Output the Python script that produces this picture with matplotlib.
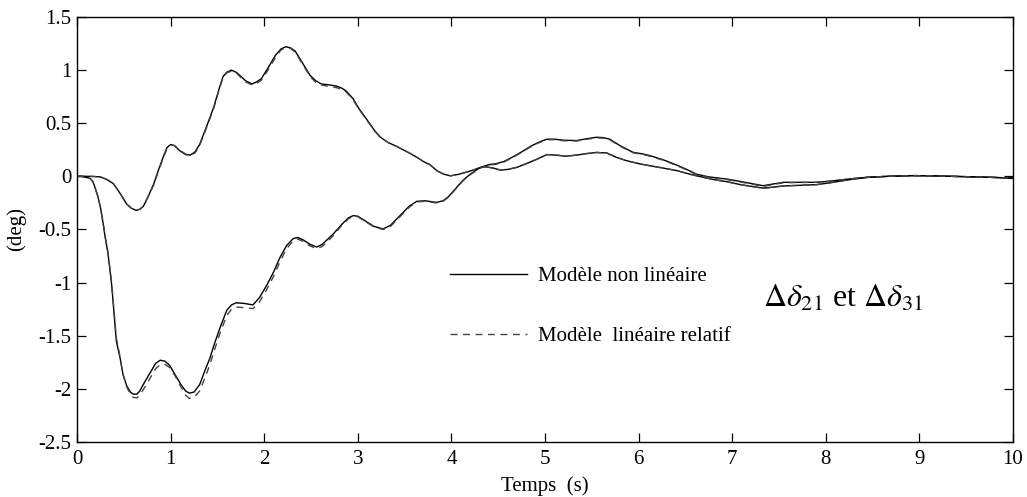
import matplotlib
matplotlib.use("Agg")
import matplotlib.pyplot as plt

# ---- data ----
t_a = [0.00, 0.15, 0.25, 0.32, 0.39, 0.46, 0.53, 0.58, 0.63, 0.67, 0.71, 0.76, 0.82, 0.87, 0.92, 0.96,
       1.00, 1.04, 1.10, 1.16, 1.21, 1.26, 1.31, 1.38, 1.46, 1.52, 1.56, 1.60, 1.65, 1.70, 1.74, 1.80,
       1.87, 1.92, 1.97, 2.04, 2.12, 2.18, 2.23, 2.28, 2.33, 2.40, 2.49, 2.55, 2.61, 2.70, 2.77, 2.83,
       2.88, 2.95, 3.01, 3.10, 3.18, 3.24, 3.32, 3.42, 3.55, 3.63, 3.70, 3.77, 3.85, 3.92, 3.99, 4.08,
       4.20, 4.30, 4.36, 4.44, 4.52, 4.60, 4.70, 4.80, 4.91, 5.02, 5.12, 5.22, 5.34, 5.45, 5.55, 5.66,
       5.76, 5.87, 6.00, 6.12, 6.25, 6.41, 6.55, 6.66, 6.80, 6.94, 7.10, 7.25, 7.33, 7.45, 7.55, 7.70,
       7.90, 8.05, 8.15, 8.30, 8.44, 8.65, 8.93, 9.15, 9.36, 9.60, 9.80, 10.00]
a_nonlin = [0.00, 0.00, -0.005, -0.03, -0.07, -0.16, -0.26, -0.30, -0.32, -0.31, -0.28, -0.19, -0.07, 0.06, 0.18, 0.27,
            0.30, 0.29, 0.24, 0.205, 0.20, 0.23, 0.30, 0.46, 0.65, 0.83, 0.94, 0.98, 1.00, 0.98, 0.95, 0.90,
            0.87, 0.89, 0.92, 1.02, 1.14, 1.20, 1.22, 1.21, 1.18, 1.08, 0.95, 0.90, 0.87, 0.86, 0.85, 0.83,
            0.80, 0.73, 0.64, 0.53, 0.43, 0.37, 0.32, 0.28, 0.22, 0.18, 0.14, 0.11, 0.05, 0.02, 0.005, 0.02,
            0.05, 0.08, 0.09, 0.08, 0.06, 0.065, 0.085, 0.12, 0.16, 0.205, 0.20, 0.19, 0.20, 0.215, 0.225, 0.22,
            0.18, 0.148, 0.12, 0.10, 0.08, 0.054, 0.02, -0.003, -0.03, -0.05, -0.08, -0.10, -0.11, -0.10, -0.09, -0.085,
            -0.078, -0.06, -0.045, -0.025, -0.01, 0.00, 0.007, 0.005, 0.00, -0.005, -0.01, -0.015]
a_lin = [0.00, 0.00, -0.005, -0.03, -0.07, -0.16, -0.26, -0.30, -0.32, -0.31, -0.28, -0.19, -0.08, 0.05, 0.17, 0.26,
         0.295, 0.29, 0.245, 0.21, 0.20, 0.22, 0.29, 0.45, 0.64, 0.82, 0.93, 0.975, 0.99, 0.975, 0.94, 0.89,
         0.86, 0.875, 0.905, 1.00, 1.12, 1.19, 1.21, 1.205, 1.17, 1.07, 0.94, 0.885, 0.86, 0.845, 0.835, 0.82,
         0.79, 0.72, 0.635, 0.525, 0.425, 0.37, 0.32, 0.28, 0.22, 0.18, 0.14, 0.11, 0.05, 0.02, 0.005, 0.02,
         0.05, 0.08, 0.09, 0.08, 0.06, 0.065, 0.085, 0.12, 0.16, 0.205, 0.20, 0.19, 0.20, 0.215, 0.225, 0.22,
         0.18, 0.148, 0.12, 0.10, 0.08, 0.054, 0.02, -0.003, -0.03, -0.05, -0.08, -0.10, -0.115, -0.10, -0.09, -0.085,
         -0.078, -0.06, -0.045, -0.025, -0.01, 0.00, 0.007, 0.005, 0.00, -0.005, -0.01, -0.015]

t_b = [0.00, 0.05, 0.10, 0.14, 0.17, 0.19, 0.22, 0.25, 0.28, 0.30, 0.33, 0.37, 0.42, 0.46, 0.49, 0.53,
       0.57, 0.60, 0.64, 0.67, 0.72, 0.78, 0.84, 0.89, 0.94, 0.99, 1.05, 1.11, 1.16, 1.20, 1.25, 1.31,
       1.37, 1.42, 1.47, 1.53, 1.60, 1.65, 1.70, 1.78, 1.88, 1.95, 2.03, 2.10, 2.17, 2.24, 2.31, 2.36,
       2.42, 2.49, 2.56, 2.62, 2.68, 2.74, 2.82, 2.90, 2.95, 3.00, 3.08, 3.17, 3.27, 3.35, 3.45, 3.55,
       3.63, 3.72, 3.84, 3.91, 3.97, 4.05, 4.12, 4.20, 4.31, 4.40, 4.48, 4.56, 4.65, 4.75, 4.84, 4.93,
       5.02, 5.10, 5.20, 5.34, 5.45, 5.55, 5.62, 5.69, 5.80, 5.94, 6.05, 6.12, 6.25, 6.34, 6.45, 6.55,
       6.62, 6.75, 6.94, 7.10, 7.25, 7.33, 7.45, 7.55, 7.70, 7.90, 8.05, 8.15, 8.30, 8.44, 8.65, 8.93,
       9.15, 9.36, 9.60, 9.80, 10.00]
b_nonlin = [0.00, 0.00, -0.01, -0.02, -0.05, -0.10, -0.18, -0.29, -0.45, -0.57, -0.72, -1.02, -1.55, -1.71, -1.86, -1.97,
            -2.03, -2.05, -2.05, -2.02, -1.94, -1.85, -1.76, -1.73, -1.74, -1.78, -1.87, -1.96, -2.02, -2.04, -2.03, -1.96,
            -1.82, -1.71, -1.57, -1.42, -1.26, -1.21, -1.19, -1.195, -1.21, -1.14, -1.02, -0.90, -0.76, -0.65, -0.585, -0.575,
            -0.60, -0.64, -0.665, -0.64, -0.59, -0.54, -0.46, -0.39, -0.37, -0.375, -0.42, -0.47, -0.495, -0.46, -0.37, -0.28,
            -0.235, -0.23, -0.245, -0.23, -0.19, -0.11, -0.04, 0.02, 0.085, 0.11, 0.12, 0.14, 0.18, 0.23, 0.28, 0.32,
            0.35, 0.35, 0.34, 0.337, 0.355, 0.368, 0.365, 0.35, 0.29, 0.226, 0.21, 0.195, 0.16, 0.13, 0.09, 0.05,
            0.02, -0.005, -0.025, -0.05, -0.075, -0.088, -0.07, -0.056, -0.056, -0.056, -0.045, -0.034, -0.02, -0.009, 0.00, 0.007,
            0.005, 0.00, -0.005, -0.01, -0.02]
b_lin = [0.00, 0.00, -0.01, -0.02, -0.05, -0.10, -0.18, -0.29, -0.44, -0.56, -0.71, -1.00, -1.52, -1.70, -1.86, -1.98,
         -2.05, -2.08, -2.085, -2.06, -1.99, -1.90, -1.81, -1.77, -1.77, -1.80, -1.88, -1.98, -2.06, -2.09, -2.08, -2.02,
         -1.89, -1.77, -1.63, -1.47, -1.31, -1.25, -1.23, -1.235, -1.245, -1.18, -1.06, -0.94, -0.80, -0.68, -0.605, -0.59,
         -0.615, -0.655, -0.68, -0.66, -0.61, -0.555, -0.47, -0.40, -0.375, -0.38, -0.425, -0.475, -0.50, -0.47, -0.38, -0.29,
         -0.24, -0.235, -0.25, -0.235, -0.195, -0.115, -0.045, 0.015, 0.08, 0.105, 0.115, 0.135, 0.175, 0.225, 0.275, 0.315,
         0.345, 0.345, 0.335, 0.333, 0.35, 0.362, 0.36, 0.345, 0.285, 0.222, 0.205, 0.19, 0.155, 0.125, 0.085, 0.045,
         0.015, -0.01, -0.03, -0.055, -0.08, -0.095, -0.075, -0.06, -0.058, -0.056, -0.045, -0.034, -0.02, -0.009, 0.00, 0.007,
         0.005, 0.00, -0.005, -0.01, -0.02]

x_ticks = [0, 1, 2, 3, 4, 5, 6, 7, 8, 9, 10]
y_ticks = [-2.5, -2, -1.5, -1, -0.5, 0, 0.5, 1, 1.5]
y_tick_labels = ["-2.5", "-2", "-1.5", "-1", "-0.5", "0", "0.5", "1", "1.5"]
legend_labels = ["Modèle non linéaire", "Modèle  linéaire relatif"]
annotation = r"$\Delta\delta_{21}$ et $\Delta\delta_{31}$"

# ---- figure ----
plt.rcParams["font.family"] = ["Liberation Serif", "DejaVu Serif"]
plt.rcParams["mathtext.fontset"] = "stix"

fig = plt.figure(figsize=(10.27, 4.97), dpi=100)
ax = fig.add_axes([0.075, 0.1107, 0.9114, 0.8551])

solid_kw = dict(color="black", linewidth=1.0, linestyle="-")
dash_kw = dict(color="#444444", linewidth=1.0, linestyle=(0, (5, 4)))

l1, = ax.plot(t_a, a_nonlin, **solid_kw)
l2, = ax.plot(t_a, a_lin, **dash_kw)
ax.plot(t_b, b_nonlin, **solid_kw)
ax.plot(t_b, b_lin, **dash_kw)

ax.set_xlim(0, 10)
ax.set_ylim(-2.5, 1.5)
ax.set_xticks(x_ticks)
ax.set_yticks(y_ticks)
ax.set_yticklabels(y_tick_labels)

ax.tick_params(direction="in", length=6.5, width=0.9, top=True, right=True,
               labelsize=15, colors="black")
ax.tick_params(axis="x", pad=6)
ax.tick_params(axis="y", pad=4)
for s in ax.spines.values():
    s.set_linewidth(1.0)
    s.set_color("black")

ax.set_xlabel("Temps  (s)", fontsize=15, labelpad=5)
ax.set_ylabel("(deg)", fontsize=15, labelpad=9)

leg = ax.legend([l1, l2], legend_labels, loc="upper left",
                bbox_to_anchor=(0.398, 0.413), frameon=False, fontsize=15,
                handlelength=3.7, handletextpad=0.55, labelspacing=1.95,
                borderpad=0, borderaxespad=0)

ax.text(0.819, 0.336, annotation, transform=ax.transAxes, fontsize=23,
        ha="center", va="center")

fig.savefig("out.png", dpi=100)
